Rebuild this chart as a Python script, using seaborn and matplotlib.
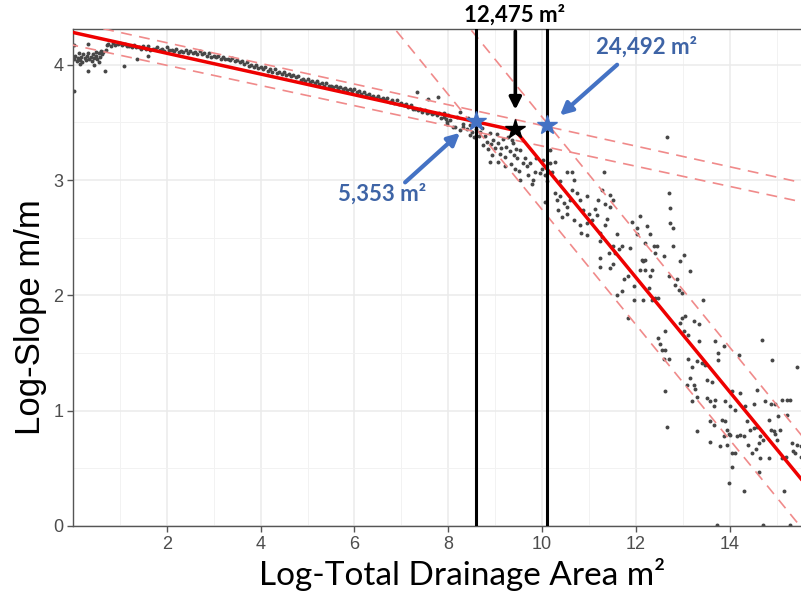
import matplotlib
matplotlib.use("Agg")
import matplotlib.pyplot as plt
import seaborn as sns
import pandas as pd

# ---------------- data ----------------
# dense ribbon of points along the upper segment
ribbon_pts = [
    (1.10, 4.18), (1.20, 4.16), (1.30, 4.17), (1.40, 4.15), (1.50, 4.16), (1.60, 4.16), (1.70, 4.14), (1.80, 4.15),
    (1.90, 4.14), (2.00, 4.15), (2.10, 4.13), (2.20, 4.14), (2.30, 4.12), (2.40, 4.13), (2.50, 4.12), (2.60, 4.11),
    (2.70, 4.12), (2.80, 4.10), (2.90, 4.10), (3.00, 4.08), (3.10, 4.08), (3.20, 4.07), (3.30, 4.05), (3.40, 4.06),
    (3.50, 4.04), (3.60, 4.03), (3.70, 4.02), (3.80, 4.00), (3.90, 4.00), (4.00, 3.98), (4.10, 3.98), (4.20, 3.96),
    (4.30, 3.96), (4.40, 3.94), (4.50, 3.94), (4.60, 3.92), (4.70, 3.91), (4.80, 3.90), (4.90, 3.88), (5.00, 3.88),
    (5.10, 3.86), (5.20, 3.86), (5.30, 3.84), (5.40, 3.84), (5.50, 3.82), (5.60, 3.82), (5.70, 3.81), (5.80, 3.80),
    (5.90, 3.79), (6.00, 3.79), (6.10, 3.77), (6.20, 3.76), (6.30, 3.75), (6.40, 3.73), (6.50, 3.73), (6.60, 3.71),
    (6.70, 3.71), (6.80, 3.69), (6.90, 3.69), (7.00, 3.67), (7.10, 3.66), (7.20, 3.65), (7.30, 3.62), (7.40, 3.62),
    (7.50, 3.61), (7.60, 3.59), (7.70, 3.58), (7.80, 3.58), (7.90, 3.55), (8.00, 3.56),
    (1.15, 4.16), (1.25, 4.15), (1.35, 4.15), (1.45, 4.14), (1.55, 4.14), (1.65, 4.13), (1.75, 4.14), (1.85, 4.13),
    (1.95, 4.12), (2.05, 4.13), (2.15, 4.12), (2.25, 4.11), (2.35, 4.11), (2.45, 4.10), (2.55, 4.10), (2.65, 4.09),
    (2.75, 4.09), (2.85, 4.08), (2.95, 4.07), (3.05, 4.07), (3.15, 4.05), (3.25, 4.05), (3.35, 4.04), (3.45, 4.03),
    (3.55, 4.02), (3.65, 4.01), (3.75, 3.99), (3.85, 3.98), (3.95, 3.97), (4.05, 3.96), (4.15, 3.95), (4.25, 3.94),
    (4.35, 3.93), (4.45, 3.92), (4.55, 3.91), (4.65, 3.90), (4.75, 3.89), (4.85, 3.87), (4.95, 3.86), (5.05, 3.85),
    (5.15, 3.84), (5.25, 3.83), (5.35, 3.82), (5.45, 3.82), (5.55, 3.81), (5.65, 3.80), (5.75, 3.79), (5.85, 3.78),
    (5.95, 3.77), (6.05, 3.76), (6.15, 3.75), (6.25, 3.74), (6.35, 3.72), (6.45, 3.71), (6.55, 3.70), (6.65, 3.69),
    (6.75, 3.68), (6.85, 3.67), (6.95, 3.66), (7.05, 3.65), (7.15, 3.63), (7.25, 3.62), (7.35, 3.61), (7.45, 3.59),
    (7.55, 3.58), (7.65, 3.57), (7.75, 3.56), (7.85, 3.54), (7.95, 3.53),
]

# small-area cluster at the far left
left_pts = [
    (0.02, 4.05), (0.05, 4.08), (0.08, 4.03), (0.10, 4.06), (0.12, 4.10), (0.15, 4.04), (0.18, 4.07), (0.20, 4.02),
    (0.22, 4.09), (0.25, 4.06), (0.28, 4.04), (0.30, 4.08), (0.33, 4.10), (0.35, 4.05), (0.38, 4.07), (0.40, 4.03),
    (0.42, 4.09), (0.45, 4.06), (0.48, 4.11), (0.50, 4.08), (0.52, 4.05), (0.55, 4.10), (0.58, 4.07), (0.60, 4.12),
    (0.62, 4.09), (0.65, 4.11), (0.70, 4.13), (0.72, 4.17), (0.75, 4.18), (0.80, 4.16), (0.85, 4.19), (0.90, 4.17),
    (0.95, 4.18), (1.00, 4.19), (1.05, 4.17),
    (0.02, 3.77), (0.02, 4.17), (0.33, 4.18), (0.32, 3.95), (0.68, 3.95), (1.09, 3.99), (1.36, 4.05), (1.60, 4.08),
    (0.15, 4.01), (0.45, 4.00), (0.55, 4.02),
]

# points around the break
break_pts = [
    (7.33, 3.76), (7.78, 3.72), (7.57, 3.70), (7.97, 3.50), (8.10, 3.46), (8.25, 3.43), (8.32, 3.46), (8.46, 3.39),
    (7.90, 3.58), (8.04, 3.52), (8.18, 3.55), (8.32, 3.49), (7.97, 3.49), (8.15, 3.46), (8.43, 3.54), (8.25, 3.59),
    (8.46, 3.48), (8.68, 3.42), (8.79, 3.38), (8.89, 3.41), (8.96, 3.35), (9.07, 3.32), (9.17, 3.36), (9.24, 3.29),
    (9.31, 3.25), (9.38, 3.32), (9.10, 3.23), (9.00, 3.28), (9.21, 3.20), (9.46, 3.19), (8.89, 3.16), (9.07, 3.16),
    (9.53, 3.26), (9.60, 3.15), (9.42, 3.10), (9.35, 3.35), (8.82, 3.33), (8.71, 3.45),
    (8.65, 3.38), (8.75, 3.30), (8.85, 3.27), (8.93, 3.22), (9.03, 3.40), (9.13, 3.28), (9.27, 3.37), (9.33, 3.14),
    (9.45, 3.27), (9.50, 3.08), (8.60, 3.44), (8.92, 3.31), (9.20, 3.12), (9.40, 3.22), (8.50, 3.42), (8.55, 3.37),
    (8.40, 3.44),
    (9.63, 3.19), (9.67, 3.12), (9.74, 3.15), (9.85, 3.07), (9.96, 3.06), (10.03, 3.17), (10.10, 2.99), (10.17, 3.26),
    (9.78, 2.97), (9.88, 3.19), (9.99, 3.10), (9.71, 3.04), (9.53, 3.00), (9.81, 3.00), (10.06, 3.04), (10.21, 3.07),
    (10.28, 3.16), (10.17, 3.15),
    (10.28, 2.89), (10.31, 2.83), (10.38, 2.86), (10.46, 2.80), (10.53, 2.77), (10.60, 2.83), (10.63, 2.91),
    (10.67, 3.00), (10.74, 2.89), (10.81, 2.83), (10.88, 2.74), (10.95, 2.86), (10.99, 2.71), (11.06, 2.65),
    (11.13, 2.75), (11.20, 2.83), (11.27, 2.91), (11.31, 3.07), (11.52, 2.83), (10.53, 2.71), (10.42, 2.68),
    (10.67, 2.65), (10.81, 2.61), (10.95, 2.63), (11.17, 2.70), (10.63, 3.07), (10.53, 3.07), (10.35, 2.74),
    (10.38, 2.99), (10.06, 2.81), (12.66, 3.37), (12.71, 2.89), (11.45, 2.87),
    (10.84, 2.54), (11.23, 2.54), (10.95, 2.52), (11.23, 2.47),
]

# steep lower segment
steep_pts = [
    (11.35, 2.79), (11.45, 2.77), (11.38, 2.66), (11.35, 2.61), (11.60, 2.53), (11.52, 2.43), (11.63, 2.40),
    (11.70, 2.43), (11.56, 2.37), (11.88, 2.41), (11.92, 2.64), (12.09, 2.69), (12.02, 2.58), (12.24, 2.60),
    (12.31, 2.53), (12.02, 2.53), (12.20, 2.45), (12.38, 2.43), (12.41, 2.37), (12.45, 2.43), (12.13, 2.31),
    (12.20, 2.31), (12.16, 2.30), (12.59, 2.34), (12.73, 2.76), (12.73, 2.63), (12.80, 2.58), (12.80, 2.43),
    (13.02, 2.35), (12.95, 2.30), (13.16, 2.21), (12.09, 2.22), (12.20, 2.22), (12.34, 2.22), (11.45, 2.24),
    (11.52, 2.27), (11.74, 2.14), (11.84, 2.17), (11.95, 2.08), (12.16, 1.96), (11.95, 1.96), (12.34, 1.96),
    (12.41, 1.98), (12.48, 1.98), (11.70, 2.04), (11.60, 2.00), (12.31, 2.17), (12.27, 2.06), (12.70, 2.17),
    (12.88, 2.14), (12.84, 2.09), (12.91, 2.05), (12.98, 2.02), (13.44, 1.96), (11.84, 1.80), (12.98, 1.80),
    (13.05, 1.82), (12.95, 1.76), (13.23, 1.78), (13.34, 1.75), (11.24, 2.32), (11.24, 2.25), (11.28, 2.51),
    (11.42, 2.37),
    (12.48, 1.63), (12.52, 1.58), (12.56, 1.53), (12.63, 1.53), (12.59, 1.45), (12.70, 1.45), (12.63, 1.69),
    (13.02, 1.69), (13.12, 1.66), (13.34, 1.60), (13.69, 1.60), (13.87, 1.56), (14.69, 1.61), (14.19, 1.48),
    (13.76, 1.50), (13.76, 1.44), (13.12, 1.45), (13.20, 1.38), (13.30, 1.43), (13.41, 1.41), (13.48, 1.40),
    (13.52, 1.27), (13.62, 1.25), (13.16, 1.28), (13.09, 1.22), (13.23, 1.22), (13.27, 1.19), (13.30, 1.12),
    (13.20, 1.08), (12.63, 1.17), (13.52, 1.11), (13.59, 1.08), (13.69, 1.09), (13.91, 1.08), (13.66, 1.04),
    (14.05, 1.17), (14.23, 1.15), (14.58, 1.18), (14.76, 1.08), (14.87, 1.06), (14.97, 1.06), (15.11, 1.09),
    (15.22, 1.09), (15.29, 1.09), (15.43, 1.38), (14.90, 1.44), (14.01, 1.04), (14.12, 1.01), (14.51, 1.06),
    (14.33, 1.04), (12.66, 0.86), (13.30, 0.82), (13.59, 0.91), (13.66, 0.88), (13.84, 0.92), (13.91, 0.91),
    (13.94, 0.83), (13.98, 0.80), (14.01, 0.79), (13.87, 0.78), (13.94, 0.70), (13.80, 0.69), (13.59, 0.73),
    (14.16, 0.78), (14.23, 0.79), (14.30, 0.78), (14.37, 0.91), (14.44, 0.83), (14.51, 0.85), (14.58, 0.86),
    (14.62, 0.72), (14.40, 0.70), (14.55, 0.67), (14.48, 0.63), (14.65, 0.78), (14.72, 0.75), (14.83, 0.92),
    (14.87, 0.83), (14.94, 0.82), (14.97, 0.80), (15.01, 0.75), (15.04, 0.95), (15.08, 0.83), (15.11, 0.59),
    (15.19, 0.60), (15.22, 0.96), (15.33, 0.72), (15.36, 0.65), (15.40, 0.63), (15.43, 0.70), (15.51, 0.69),
    (15.51, 0.60), (14.83, 0.59), (14.65, 0.59), (14.05, 0.63), (14.12, 0.63), (14.05, 0.51), (13.98, 0.37),
    (14.30, 0.30), (14.62, 0.47), (15.15, 0.30), (13.73, 0.01), (14.72, 0.01), (15.29, 0.01),
]

# segmented regression (solid red) and confidence lines (dashed)
fit_x = [0.0, 9.43, 15.60]
fit_y = [4.28, 3.43, 0.37]
ci_lines = {
    "seg1_upper": ([-0.5, 16.0], [4.415, 2.936]),
    "seg1_lower": ([-0.5, 16.0], [4.214, 2.770]),
    "seg2_upper": ([8.00, 16.0], [4.545, 0.552]),
    "seg2_lower": ([6.40, 16.0], [4.540, -0.250]),
}

# breakpoint estimate and its bounds
break_area = [5353, 12475, 24492]
break_log = [8.585, 9.43, 10.106]
star_y = [3.51, 3.44, 3.48]
break_labels = ["5,353 m²", "12,475 m²", "24,492 m²"]

# ---------------- figure ----------------
sns.set_theme(style="white")
fig = plt.figure(figsize=(8.01, 5.94), dpi=100)
ax = fig.add_axes([73 / 801, 68 / 594, 728 / 801, 497 / 594])

all_pts = ribbon_pts + left_pts + break_pts + steep_pts
df = pd.DataFrame(all_pts, columns=["x", "y"])

# grid
ax.set_xlim(0, 15.52)
ax.set_ylim(0, 4.31)
ax.set_xticks([2, 4, 6, 8, 10, 12, 14])
ax.set_xticks([1, 3, 5, 7, 9, 11, 13, 15], minor=True)
ax.set_yticks([0, 1, 2, 3, 4])
ax.set_yticks([0.5, 1.5, 2.5, 3.5], minor=True)
ax.grid(which="major", color="#EBEBEB", lw=1.1, zorder=0)
ax.grid(which="minor", color="#F2F2F2", lw=0.7, zorder=0)
ax.set_axisbelow(True)

sns.scatterplot(data=df, x="x", y="y", color="#474747", s=8, linewidth=0, ax=ax, zorder=2)

dash_col = "#F08A8A"
for name, (lx, ly) in ci_lines.items():
    ax.plot(lx, ly, color=dash_col, lw=1.2, ls=(0, (6.5, 4.5)), zorder=3)

sns.lineplot(x=fit_x, y=fit_y, ax=ax, color="#EE0000", lw=2.5, sort=False, estimator=None, zorder=4)

for bx in [break_log[0], break_log[2]]:
    ax.axvline(bx, color="black", lw=2.2, zorder=5)

blue = "#4472C4"
ax.plot([break_log[0], break_log[2]], [star_y[0], star_y[2]], ls="none", marker="*",
        ms=15, color=blue, mec=blue, zorder=7)
ax.plot([break_log[1]], [star_y[1]], ls="none", marker="*", ms=15, color="black", zorder=7)

# arrows
ax.annotate("", xy=(break_log[1], 3.61), xytext=(break_log[1], 4.29),
            arrowprops=dict(arrowstyle="-|>", color="black", lw=2.6, mutation_scale=18,
                            shrinkA=0, shrinkB=0), zorder=8)
ax.annotate("", xy=(10.38, 3.56), xytext=(11.60, 4.00),
            arrowprops=dict(arrowstyle="-|>", color=blue, lw=3, mutation_scale=18,
                            shrinkA=0, shrinkB=0), zorder=8)
ax.annotate("", xy=(8.25, 3.41), xytext=(7.08, 2.98),
            arrowprops=dict(arrowstyle="-|>", color=blue, lw=3, mutation_scale=18,
                            shrinkA=0, shrinkB=0), zorder=8)

txt_blue = "#3E64A6"
ax.text(9.42, 4.435, break_labels[1], ha="center", va="center", fontsize=16,
        fontweight="bold", family="Lato", color="black", clip_on=False)
ax.text(12.22, 4.15, break_labels[2], ha="center", va="center", fontsize=16,
        fontweight="bold", family="Lato", color=txt_blue)
ax.text(6.59, 2.88, break_labels[0], ha="center", va="center", fontsize=16,
        fontweight="bold", family="Lato", color=txt_blue)

# axes styling
for s in ["left", "bottom", "top"]:
    ax.spines[s].set_color("#555555")
    ax.spines[s].set_linewidth(1.0)
ax.spines["right"].set_visible(False)
ax.tick_params(which="major", direction="out", length=4, width=1, color="#555555",
               labelcolor="#4D4D4D", labelsize=13, bottom=True, left=True, pad=3)
ax.tick_params(which="minor", length=0)
for lab in ax.get_xticklabels() + ax.get_yticklabels():
    lab.set_family("Liberation Sans")

ax.set_xlabel("Log-Total Drainage Area m²", fontsize=24, family="Lato", color="black", va="center")
ax.xaxis.set_label_coords(0.534, -0.097)
ax.set_ylabel("Log-Slope m/m", fontsize=25, family="Liberation Sans", color="black", va="center")
ax.yaxis.set_label_coords(-0.059, 0.42)

fig.savefig("out.png", dpi=100)
